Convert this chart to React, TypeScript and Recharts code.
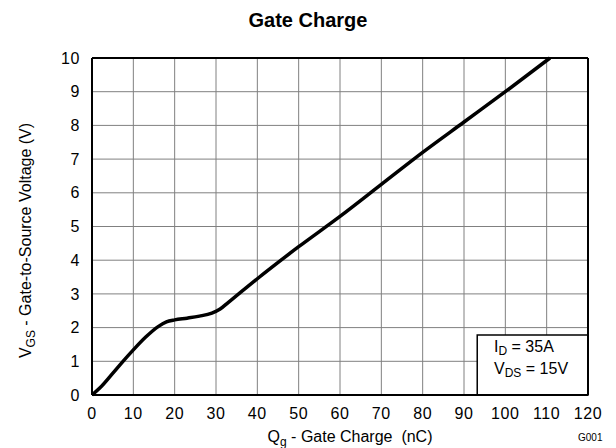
import React from 'react';
import { LineChart, Line, XAxis, YAxis, CartesianGrid, ReferenceLine, ReferenceArea, Label } from 'recharts';

const gateCharge = [0, 2, 5, 7.5, 10, 13, 16, 18, 20, 23, 26, 29, 31, 33, 36, 40, 50, 60, 70, 80, 90, 100, 110.8];
const vgs = [0, 0.22, 0.64, 1.0, 1.34, 1.72, 2.03, 2.17, 2.23, 2.28, 2.34, 2.43, 2.55, 2.75, 3.05, 3.45, 4.4, 5.3, 6.25, 7.2, 8.1, 9.0, 10];
const xTicks = [0, 10, 20, 30, 40, 50, 60, 70, 80, 90, 100, 110, 120];
const yTicks = [0, 1, 2, 3, 4, 5, 6, 7, 8, 9, 10];

const data = gateCharge.map((q, i) => ({ q, v: vgs[i] }));

const FONT = '"Liberation Sans", Arial, sans-serif';

const YLabel = (props: any) => {
  const vb = props.viewBox || {};
  const cx = 31;
  const cy = vb.y + vb.height / 2 + 14;
  return (
    <text x={cx} y={cy} transform={`rotate(-90, ${cx}, ${cy})`} textAnchor="middle" fontSize={16} fontFamily={FONT} fill="#000">
      V<tspan fontSize={12} dy={4}>GS</tspan><tspan dy={-4}> - Gate-to-Source Voltage (V)</tspan>
    </text>
  );
};

const XLabel = (props: any) => {
  const vb = props.viewBox || {};
  const cx = vb.x + vb.width / 2 + 10;
  return (
    <text x={cx} y={442} textAnchor="middle" fontSize={16} fontFamily={FONT} fill="#000">
      Q<tspan fontSize={12} dy={4}>g</tspan><tspan dy={-4}>{' - Gate Charge \u00a0(nC)'}</tspan>
    </text>
  );
};

export default function App() {
  return (
    <div style={{ position: 'absolute', left: 0, top: 0, width: 616, height: 448, background: '#fff', fontFamily: FONT }}>
      <div style={{ position: 'absolute', left: 0, top: 9, width: 616, textAlign: 'center', fontSize: 20, fontWeight: 'bold' }}>Gate Charge</div>
      <LineChart width={616} height={448} data={data} margin={{ top: 58, right: 28, left: 52, bottom: 23 }}>
        <CartesianGrid stroke="#808080" strokeWidth={1} />
        <XAxis dataKey="q" type="number" domain={[0, 120]} ticks={xTicks} interval={0} tickLine={false}
          axisLine={{ stroke: '#000', strokeWidth: 2 }} tickMargin={7} height={30}
          tick={{ fill: '#000', fontSize: 16, fontFamily: FONT, letterSpacing: 0.6 }}>
          <Label content={<XLabel />} />
        </XAxis>
        <YAxis type="number" domain={[0, 10]} ticks={yTicks} interval={0} tickLine={false}
          axisLine={{ stroke: '#000', strokeWidth: 2 }} tickMargin={6} width={40}
          tick={{ fill: '#000', fontSize: 16, fontFamily: FONT, letterSpacing: 0.6 }}>
          <Label content={<YLabel />} />
        </YAxis>
        <ReferenceLine y={10} stroke="#000" strokeWidth={2} />
        <ReferenceLine x={120} stroke="#000" strokeWidth={2} />
        <ReferenceArea x1={93.2} x2={120} y1={0} y2={1.78} fill="#fff" fillOpacity={1} stroke="#000" strokeWidth={1.5} />
        <Line dataKey="v" type="monotone" stroke="#000" strokeWidth={3.5} dot={false} isAnimationActive={false} />
      </LineChart>
      <div style={{ position: 'absolute', left: 494, top: 338, fontSize: 16, lineHeight: '18px' }}>
        I<sub style={{ fontSize: 12, verticalAlign: -3 }}>D</sub> = 35A<br />
        V<sub style={{ fontSize: 12, verticalAlign: -3 }}>DS</sub> = 15V
      </div>
      <div style={{ position: 'absolute', left: 578, top: 432, fontSize: 10 }}>G001</div>
    </div>
  );
}
